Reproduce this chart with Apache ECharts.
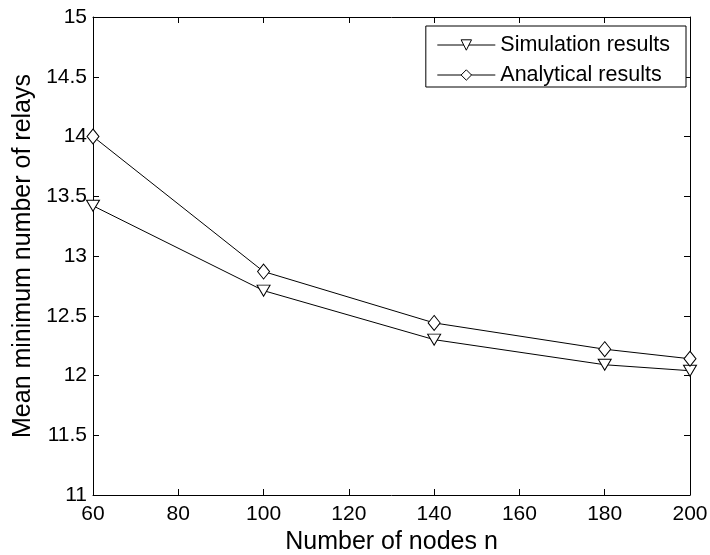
<!DOCTYPE html>
<html><head><meta charset="utf-8">
<script src="https://cdn.jsdelivr.net/npm/echarts@6/dist/echarts.min.js"></script>
<style>html,body{margin:0;padding:0;background:#fff}#c{width:710px;height:555px}</style>
</head><body><div id="c"></div>
<script>
var nodes = [60, 100, 140, 180, 200];
var simulation = [13.42, 12.71, 12.30, 12.09, 12.04];
var analytical = [14.00, 12.87, 12.44, 12.22, 12.14];

var chart = echarts.init(document.getElementById('c'));
var font = 'Liberation Sans, Arial, sans-serif';
function pairs(xs, ys){ return xs.map(function(x,i){return [x, ys[i]];}); }
var tri = 'path://M0,0 L10,0 L5,8.66 Z';
var axisCommon = {
  axisLine:{show:true, onZero:false, lineStyle:{color:'#000', width:1}},
  axisTick:{show:true, inside:true, length:6, lineStyle:{color:'#000'}},
  splitLine:{show:false}
};
chart.setOption({
  animation:false,
  backgroundColor:'#fff',
  grid:{left:93, right:20, top:17, bottom:60, containLabel:false, outerBoundsMode:'none'},
  legend:{
    right:24, top:26, orient:'vertical', itemGap:8, itemWidth:58, itemHeight:13,
    padding:[8,16,1,11], borderColor:'#000', borderWidth:1, backgroundColor:'#fff',
    textStyle:{fontFamily:font, fontSize:21.5, color:'#000'},
    lineStyle:{width:1, color:'#000'},
    itemStyle:{color:'#fff', borderColor:'#000', borderWidth:1},
    data:['Simulation results','Analytical results']
  },
  xAxis:[
    Object.assign({type:'value', min:60, max:200, interval:20, position:'bottom',
      name:'Number of nodes n', nameLocation:'middle', nameGap:32,
      nameTextStyle:{fontFamily:font, fontSize:25, color:'#000'},
      axisLabel:{fontFamily:font, fontSize:21, color:'#000', margin:9}}, axisCommon),
    Object.assign({type:'value', min:60, max:200, interval:20, position:'top',
      axisLabel:{show:false}}, axisCommon)
  ],
  yAxis:[
    Object.assign({type:'value', min:11, max:15, interval:0.5, position:'left',
      name:'Mean minimum number of relays', nameLocation:'middle', nameGap:54,
      nameTextStyle:{fontFamily:font, fontSize:25, color:'#000'},
      axisLabel:{fontFamily:font, fontSize:21, color:'#000', margin:6,
        formatter:function(v){return String(v);}}}, axisCommon),
    Object.assign({type:'value', min:11, max:15, interval:0.5, position:'right',
      axisLabel:{show:false}}, axisCommon)
  ],
  series:[
    {name:'Simulation results', type:'line', data:pairs(nodes, simulation),
     symbol:tri, symbolSize:[13,11], showAllSymbol:true,
     lineStyle:{color:'#000', width:1},
     itemStyle:{color:'#fff', borderColor:'#000', borderWidth:1}},
    {name:'Analytical results', type:'line', data:pairs(nodes, analytical),
     symbol:'diamond', symbolSize:[12,15], showAllSymbol:true,
     lineStyle:{color:'#000', width:1},
     itemStyle:{color:'#fff', borderColor:'#000', borderWidth:1}}
  ]
});
</script></body></html>
